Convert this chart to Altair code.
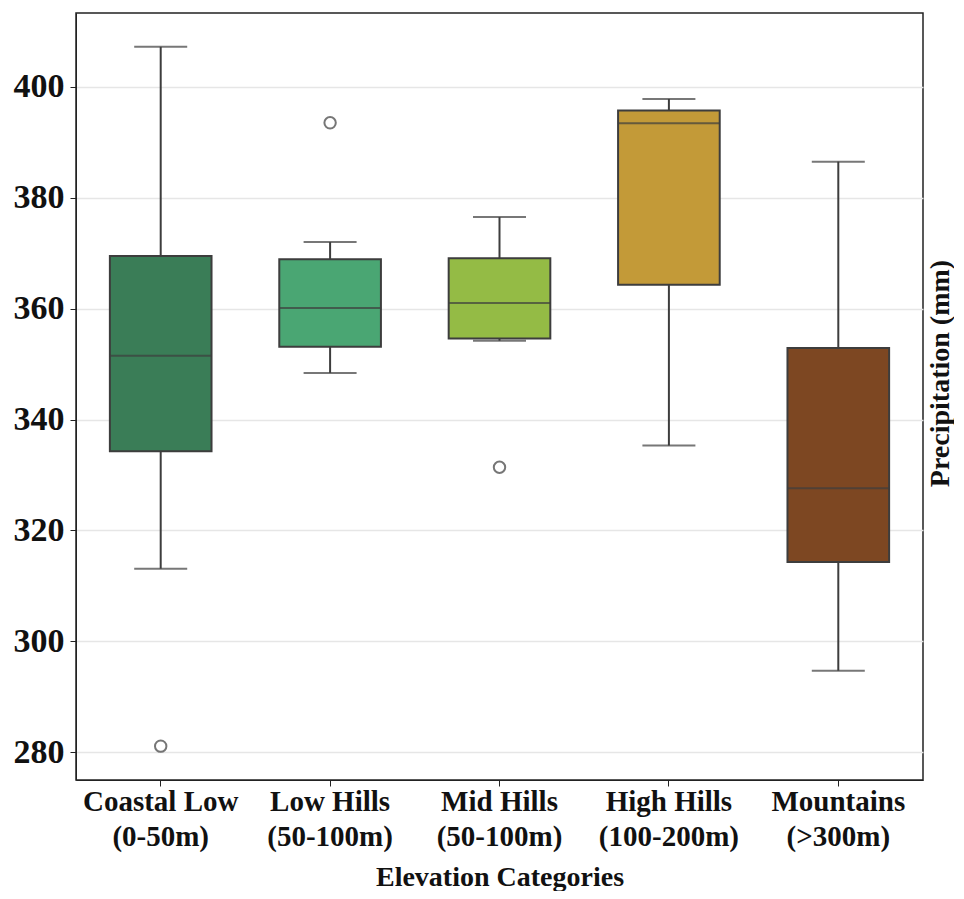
import altair as alt
import pandas as pd

categories = ["Coastal Low\n(0-50m)", "Low Hills\n(50-100m)", "Mid Hills\n(50-100m)",
              "High Hills\n(100-200m)", "Mountains\n(>300m)"]
colors = ["#3a7d57", "#4aa673", "#94bb45", "#c39a38", "#7d4722"]

lower = [313.1, 348.4, 354.2, 335.3, 294.7]
q1 = [334.3, 353.1, 354.6, 364.3, 314.3]
median = [351.5, 360.1, 361.0, 393.4, 327.6]
q3 = [369.5, 368.9, 369.1, 395.7, 352.9]
upper = [407.2, 372.0, 376.5, 397.8, 386.5]

outlier_cat = ["Coastal Low\n(0-50m)", "Low Hills\n(50-100m)", "Mid Hills\n(50-100m)"]
outlier_val = [281.1, 393.5, 331.4]

y_ticks = [280, 300, 320, 340, 360, 380, 400]

stats = pd.DataFrame({"cat": categories, "lower": lower, "q1": q1, "median": median,
                      "q3": q3, "upper": upper})
outs = pd.DataFrame({"cat": outlier_cat, "val": outlier_val})

FONT = "Liberation Serif"
DARK = "#3d3d3d"

xenc = alt.X("cat:N", sort=categories, title="Elevation Categories",
             scale=alt.Scale(paddingInner=0, paddingOuter=0),
             axis=alt.Axis(labelExpr="split(datum.value, '\\n')", labelAngle=0,
                           labelFontSize=29, labelLineHeight=35, labelFont=FONT,
                           labelFontWeight="bold", labelColor="#111",
                           titleFont=FONT, titleFontSize=28, titleFontWeight="bold",
                           titleColor="#111", titlePadding=12, tickSize=6,
                           tickColor="#222", domainColor="#222", labelPadding=1))
yscale = alt.Scale(domain=[275, 413.3], nice=False, zero=False)

base = alt.Chart(stats)

whisk_lo = base.mark_rule(color=DARK, strokeWidth=2).encode(
    x=xenc, y=alt.Y("lower:Q", scale=yscale, axis=None), y2="q1:Q")
whisk_hi = base.mark_rule(color=DARK, strokeWidth=2).encode(
    x=xenc, y=alt.Y("q3:Q", scale=yscale, axis=None), y2="upper:Q")
cap_lo = base.mark_tick(color=DARK, size=53, thickness=2).encode(
    x=xenc, y=alt.Y("lower:Q", scale=yscale, axis=None))
cap_hi = base.mark_tick(color=DARK, size=53, thickness=2).encode(
    x=xenc, y=alt.Y("upper:Q", scale=yscale, axis=None))

box = base.mark_bar(width=alt.RelativeBandSize(0.6), stroke=DARK, strokeWidth=2).encode(
    x=xenc,
    y=alt.Y("q1:Q", scale=yscale,
            axis=alt.Axis(values=y_ticks, title=None, labelFont=FONT, labelFontSize=34,
                          labelFontWeight="bold", labelColor="#111", gridColor="#e6e6e6",
                          gridWidth=1.5, tickSize=6, tickColor="#222", domainColor="#222",
                          labelPadding=6)),
    y2="q3:Q",
    color=alt.Color("cat:N", sort=categories,
                    scale=alt.Scale(domain=categories, range=colors), legend=None))

med = base.mark_tick(color=DARK, size=102, thickness=2).encode(
    x=xenc, y=alt.Y("median:Q", scale=yscale, axis=None))

right_title = base.mark_rule(opacity=0).encode(
    x=xenc,
    y=alt.Y("median:Q", scale=yscale,
            axis=alt.Axis(orient="right", labels=False, ticks=False, domain=False,
                          grid=False, title="Precipitation (mm)", titleFont=FONT,
                          titleFontSize=28, titleFontWeight="bold", titleColor="#111",
                          titleAngle=270, titleBaseline="top", titlePadding=3,
                          titleY=360)))

pts = alt.Chart(outs).mark_point(shape="circle", filled=False, size=130, color=DARK,
                                 strokeWidth=2).encode(
    x=xenc, y=alt.Y("val:Q", scale=yscale, axis=None))

chart = alt.layer(box, whisk_lo, whisk_hi, cap_lo, cap_hi, med, pts, right_title).resolve_axis(
    y="independent").properties(
    width=847, height=767, background="white",
    padding={"left": 5, "top": 5, "right": 0, "bottom": 0}).configure_view(
    stroke="#222", strokeWidth=1.5)

chart.save("out.html", embed_options={"renderer": "svg", "actions": False})
